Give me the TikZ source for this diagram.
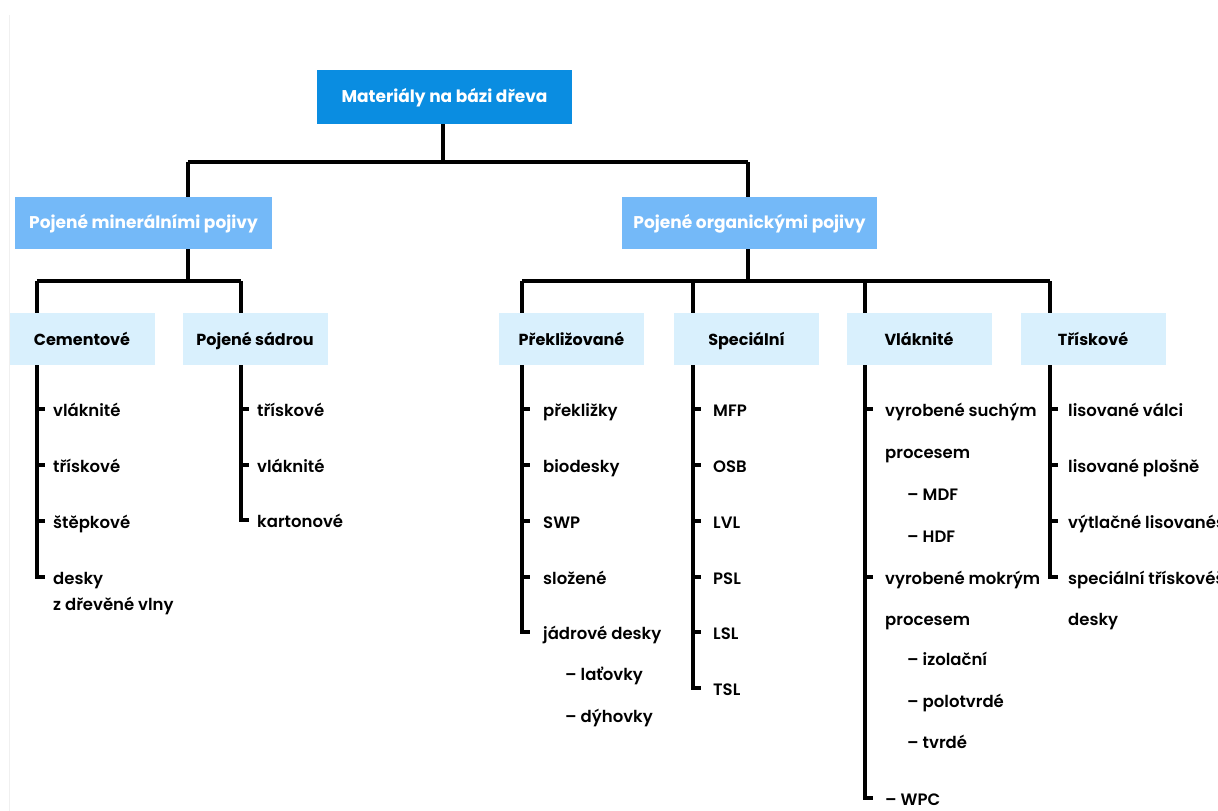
\documentclass[tikz,border=0pt]{standalone}
\usepackage{fontspec}
\setmainfont{Poppins}
\newfontfamily\medfont{Poppins SemiBold}
\definecolor{topblue}{HTML}{0A8DE1}
\definecolor{midblue}{HTML}{74B9F8}
\definecolor{lowblue}{HTML}{D9F0FD}
\begin{document}
\begin{tikzpicture}[x=1pt,y=-1pt,
  topbox/.style={fill=topblue,text=white,font=\bfseries\fontsize{17}{20}\selectfont,inner sep=0pt,minimum width=255pt,minimum height=54pt,text height=13pt,text depth=3pt},
  midbox/.style={fill=midblue,text=white,font=\bfseries\fontsize{17}{20}\selectfont,inner sep=0pt,minimum width=257pt,minimum height=52pt,text height=13pt,text depth=3pt},
  lowbox/.style={fill=lowblue,text=black,font=\bfseries\fontsize{16}{19}\selectfont,inner sep=0pt,minimum width=145pt,minimum height=52pt,text height=14pt,text depth=2pt},
  item/.style={font=\medfont\fontsize{16.5}{19}\selectfont,inner sep=0pt,anchor=base west},
  conn/.style={line width=3.3pt,black},
  tick/.style={line width=3.3pt,black}]
\useasboundingbox (0,0) rectangle (1218,811);
\draw[black!6,line width=1pt] (9.5,15) -- (9.5,811);
% boxes
\node[topbox] (top) at (444.5,97) {Materiály na bázi dřeva};
\node[midbox] (min) at (143.5,223) {Pojené minerálními pojivy};
\node[midbox,minimum width=255pt] (org) at (749.5,223) {Pojené organickými pojivy};
\node[lowbox] (cem) at (82,339) {Cementové};
\node[lowbox] (sad) at (255,339) {Pojené sádrou};
\node[lowbox] (pre) at (571.5,339) {Překližované};
\node[lowbox] (spe) at (746.5,339) {Speciální};
\node[lowbox] (vla) at (919,339) {Vláknité};
\node[lowbox] (tri) at (1093,339) {Třískové};
% tree connectors
\coordinate (jt) at (443,162);
\draw[conn] (top.south -| jt) -- (jt);
\draw[conn] (188,162) -- (748,162);
\draw[conn] (188,162) -- (min.north -| 188,0);
\draw[conn] (748,162) -- (org.north -| 748,0);
\coordinate (jm) at (188,281);
\draw[conn] (min.south -| jm) -- (jm);
\draw[conn] (37,281) -- (241,281);
\draw[conn] (37,281) -- (cem.north -| 37,0);
\draw[conn] (241,281) -- (sad.north -| 241,0);
\coordinate (jo) at (748,281);
\draw[conn] (org.south -| jo) -- (jo);
\draw[conn] (522,281) -- (1050,281);
\draw[conn] (522,281) -- (pre.north -| 522,0);
\draw[conn] (693,281) -- (spe.north -| 693,0);
\draw[conn] (865,281) -- (vla.north -| 865,0);
\draw[conn] (1050,281) -- (tri.north -| 1050,0);
% Cementove column
\draw[conn] (cem.south -| 37,0) -- (37,577) -- (45,577);
\foreach \y in {409,465,521} \draw[tick] (37,\y) -- (45,\y);
\node[item] (c1) at (53,416) {vláknité};
\node[item] (c2) at (53,472) {třískové};
\node[item] (c3) at (53,528) {štěpkové};
\node[item] (c4) at (53,584) {desky};
\node[item] (c5) at (53,610) {z dřevěné vlny};
% Pojene sadrou column
\draw[conn] (sad.south -| 241,0) -- (241,520) -- (249,520);
\foreach \y in {409,465} \draw[tick] (241,\y) -- (249,\y);
\node[item] (s1) at (257,416) {třískové};
\node[item] (s2) at (257,472) {vláknité};
\node[item] (s3) at (257,527) {kartonové};
% Preklizovane column
\draw[conn] (pre.south -| 522,0) -- (522,632) -- (530,632);
\foreach \y in {409,465,521,577} \draw[tick] (522,\y) -- (530,\y);
\node[item] (p1) at (543,416) {překližky};
\node[item] (p2) at (543,472) {biodesky};
\node[item] (p3) at (543,528) {SWP};
\node[item] (p4) at (543,584) {složené};
\node[item] (p5) at (543,639) {jádrové desky};
\node[item] (p6) at (565,680) {– laťovky};
\node[item] (p7) at (565,722) {– dýhovky};
% Specialni column
\draw[conn] (spe.south -| 693,0) -- (693,688) -- (701,688);
\foreach \y in {409,465,521,577,632} \draw[tick] (693,\y) -- (701,\y);
\node[item] (e1) at (713,416) {MFP};
\node[item] (e2) at (713,472) {OSB};
\node[item] (e3) at (713,528) {LVL};
\node[item] (e4) at (713,584) {PSL};
\node[item] (e5) at (713,639) {LSL};
\node[item] (e6) at (713,695) {TSL};
% Vlaknite column
\draw[conn] (vla.south -| 865,0) -- (865,798) -- (873,798);
\foreach \y in {409,577} \draw[tick] (865,\y) -- (873,\y);
\node[item] (v1) at (885,416) {vyrobené suchým};
\node[item] (v2) at (885,458) {procesem};
\node[item] (v3) at (907,500) {– MDF};
\node[item] (v4) at (907,542) {– HDF};
\node[item] (v5) at (885,584) {vyrobené mokrým};
\node[item] (v6) at (885,625) {procesem};
\node[item] (v7) at (907,665) {– izolační};
\node[item] (v8) at (907,707) {– polotvrdé};
\node[item] (v9) at (907,748) {– tvrdé};
\node[item] (v10) at (885,805) {– WPC};
% Triskove column
\draw[conn] (tri.south -| 1050,0) -- (1050,577) -- (1058,577);
\foreach \y in {409,465,521} \draw[tick] (1050,\y) -- (1058,\y);
\node[item] (t1) at (1068,416) {lisované válci};
\node[item] (t2) at (1068,472) {lisované plošně};
\node[item] (t3) at (1068,528) {výtlačné lisovanéš};
\node[item] (t4) at (1068,584) {speciální třískovéš};
\node[item] (t5) at (1068,625) {desky};
\end{tikzpicture}
\end{document}
